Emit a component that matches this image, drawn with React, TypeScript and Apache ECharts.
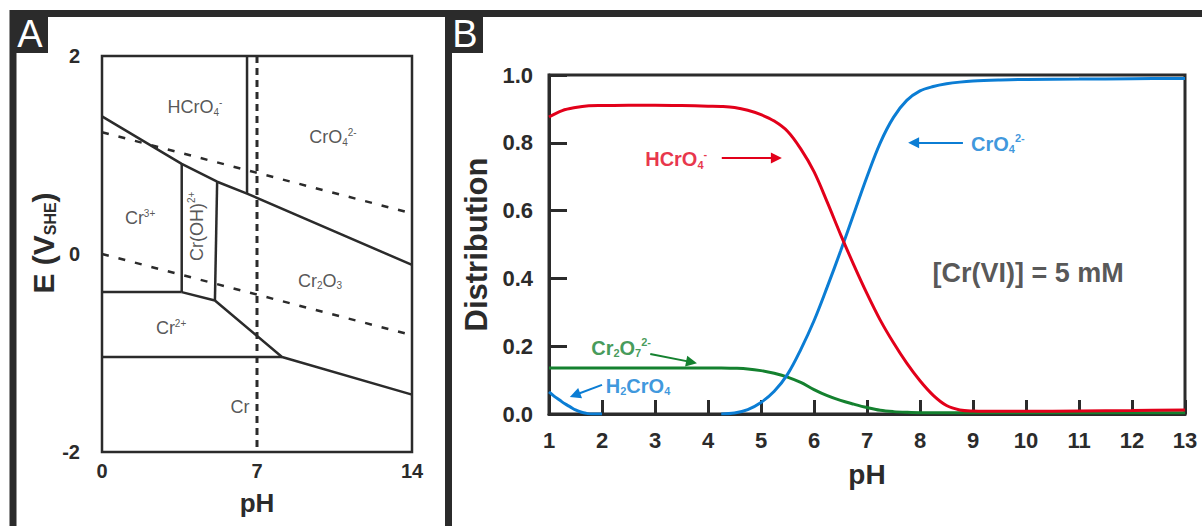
import React, { useEffect, useRef } from 'react';
import * as echarts from 'echarts';

const FONT = 'Arial, "Liberation Sans", Helvetica, sans-serif';
const INK = '#2b2b2b';
const RED = '#e2001a';
const BLUE = '#0b7dd4';
const GREEN = '#14812f';

// ---------- Panel A: Pourbaix diagram (pH, E in V vs SHE) ----------
const upperBoundary = [[0, 1.39], [3.6, 0.91], [5.2, 0.73], [6.55, 0.61], [14, -0.11]];
const hcro4Cro4Boundary = [[6.55, 2], [6.55, 0.61]];
const cr3CrOHBoundary = [[3.6, 0.91], [3.6, -0.385]];
const crOHCr2o3Boundary = [[5.2, 0.73], [5.1, -0.47]];
const cr3Cr2Boundary = [[0, -0.385], [3.6, -0.385]];
const cr2Cr2o3Boundary = [[3.6, -0.385], [5.1, -0.47], [8.13, -1.04], [14, -1.42]];
const cr2CrBoundary = [[0, -1.04], [8.13, -1.04]];
const waterO2Line = [[0, 1.23], [14, 0.41]];
const waterH2Line = [[0, 0], [14, -0.82]];
const neutralLine = [[7, 2], [7, -2]];

const regionText = [
  'HCrO{sub|4}{sup|-}',
  'CrO{sub|4}{sup|2-}',
  'Cr{sup|3+}',
  'Cr(OH){sup|2+}',
  'Cr{sub|2}O{sub|3}',
  'Cr{sup|2+}',
  'Cr',
];
const regionPH = [4.2, 10.43, 1.72, 4.29, 9.85, 3.12, 6.23];
const regionE = [1.48, 1.18, 0.36, 0.28, -0.27, -0.75, -1.55];
const regionRotate = [0, 0, 0, 90, 0, 0, 0];

// ---------- Panel B: Cr(VI) speciation ----------
const phB = [1, 1.25, 1.5, 1.75, 2, 2.5, 3, 3.5, 4, 4.25, 4.5, 4.75, 5, 5.25, 5.5, 5.75, 6, 6.25, 6.5, 6.75, 7, 7.25, 7.5, 7.75, 8, 8.25, 8.5, 8.75, 9, 9.5, 10, 11, 12, 13];
const hcro4 = [0.876, 0.895, 0.904, 0.909, 0.91, 0.911, 0.911, 0.91, 0.908, 0.907, 0.904, 0.896, 0.883, 0.864, 0.834, 0.782, 0.715, 0.625, 0.53, 0.44, 0.355, 0.277, 0.21, 0.15, 0.098, 0.055, 0.025, 0.012, 0.009, 0.008, 0.008, 0.009, 0.01, 0.012];
const cro4 = [null, null, null, null, null, null, null, null, null, 0, 0.003, 0.013, 0.034, 0.067, 0.117, 0.19, 0.275, 0.375, 0.48, 0.59, 0.7, 0.8, 0.875, 0.925, 0.953, 0.966, 0.974, 0.979, 0.982, 0.985, 0.987, 0.988, 0.989, 0.99];
const cr2o7 = [0.136, 0.136, 0.136, 0.136, 0.136, 0.136, 0.136, 0.136, 0.136, 0.136, 0.135, 0.133, 0.128, 0.12, 0.109, 0.093, 0.072, 0.054, 0.04, 0.029, 0.019, 0.011, 0.007, 0.005, 0.004, 0.004, 0.004, 0.004, 0.004, 0.004, 0.004, 0.004, 0.004, 0.004];
const phH2cro4 = [1, 1.1, 1.2, 1.3, 1.4, 1.5, 1.6, 1.7, 1.8, 2];
const h2cro4 = [0.065, 0.052, 0.041, 0.03, 0.021, 0.012, 0.006, 0.002, 0, 0];

const annoText = ['HCrO{sub|4}{sup|-}', 'CrO{sub|4}{sup|2-}', 'Cr{sub|2}O{sub|7}{sup|2-}', 'H{sub|2}CrO{sub|4}'];
const annoColor = [RED, BLUE, GREEN, BLUE];
const annoAt = [[3.4, 0.752], [9.47, 0.797], [2.36, 0.195], [2.68, 0.083]];
const arrowFrom = [[4.26, 0.755], [8.81, 0.8], [2.91, 0.177], [2.0, 0.086]];
const arrowTo = [[5.29, 0.755], [7.88, 0.8], [3.69, 0.153], [1.49, 0.056]];
const concentrationNote = '[Cr(VI)] = 5 mM';
const notePos = [10.04, 0.416];

const pairs = (xs: number[], ys: (number | null)[]) =>
  xs.map((x, i) => [x, ys[i]]).filter((d) => d[1] !== null);

const richFor = (sub: number, color: string, weight: string) => ({
  sub: { fontSize: sub, lineHeight: sub, verticalAlign: 'bottom', fontFamily: FONT, color, fontWeight: weight },
  sup: { fontSize: sub, lineHeight: sub, verticalAlign: 'top', fontFamily: FONT, color, fontWeight: weight },
});

function buildOption() {
  const lineA = (data: number[][], kind: 'solid' | 'dash' | 'dot') => ({
    type: 'line',
    xAxisIndex: 0,
    yAxisIndex: 0,
    data,
    symbol: 'none',
    silent: true,
    z: 3,
    lineStyle: {
      color: INK,
      width: kind === 'dot' ? 3 : 2.5,
      type: kind === 'solid' ? 'solid' : kind === 'dash' ? [7, 10] : [7, 5],
    },
  });

  const series: any[] = [
    lineA(waterO2Line, 'dash'),
    lineA(waterH2Line, 'dash'),
    lineA(neutralLine, 'dot'),
    lineA(upperBoundary, 'solid'),
    lineA(hcro4Cro4Boundary, 'solid'),
    lineA(cr3CrOHBoundary, 'solid'),
    lineA(crOHCr2o3Boundary, 'solid'),
    lineA(cr3Cr2Boundary, 'solid'),
    lineA(cr2Cr2o3Boundary, 'solid'),
    lineA(cr2CrBoundary, 'solid'),
    {
      type: 'scatter',
      xAxisIndex: 0,
      yAxisIndex: 0,
      symbolSize: 0,
      silent: true,
      z: 5,
      label: {
        show: true,
        position: 'inside',
        fontSize: 18,
        lineHeight: 20,
        color: INK,
        fontFamily: FONT,
        rich: richFor(10, INK, 'normal'),
      },
      data: regionText.map((t, i) => ({
        value: [regionPH[i], regionE[i]],
        label: { formatter: t, rotate: regionRotate[i] },
      })),
    },
    {
      type: 'line', name: 'Cr2O7 2-', xAxisIndex: 1, yAxisIndex: 1,
      data: pairs(phB, cr2o7), smooth: 0.35, symbol: 'none', silent: true, z: 3,
      lineStyle: { color: GREEN, width: 3 }, itemStyle: { color: GREEN },
    },
    {
      type: 'line', name: 'H2CrO4', xAxisIndex: 1, yAxisIndex: 1,
      data: pairs(phH2cro4, h2cro4), smooth: 0.35, symbol: 'none', silent: true, z: 3,
      lineStyle: { color: BLUE, width: 3 }, itemStyle: { color: BLUE },
    },
    {
      type: 'line', name: 'CrO4 2-', xAxisIndex: 1, yAxisIndex: 1,
      data: pairs(phB, cro4), smooth: 0.35, symbol: 'none', silent: true, z: 3,
      lineStyle: { color: BLUE, width: 3 }, itemStyle: { color: BLUE },
    },
    {
      type: 'line', name: 'HCrO4 -', xAxisIndex: 1, yAxisIndex: 1,
      data: pairs(phB, hcro4), smooth: 0.35, symbol: 'none', silent: true, z: 4,
      lineStyle: { color: RED, width: 3 }, itemStyle: { color: RED },
    },
  ];

  annoText.forEach((t, i) => {
    series.push({
      type: 'scatter',
      xAxisIndex: 1,
      yAxisIndex: 1,
      symbolSize: 0,
      silent: true,
      z: 6,
      color: annoColor[i],
      label: {
        show: true,
        position: 'inside',
        formatter: t,
        fontSize: 20,
        fontWeight: 'bold',
        lineHeight: 22,
        color: annoColor[i],
        fontFamily: FONT,
        rich: richFor(11, annoColor[i], 'bold'),
      },
      data: [annoAt[i]],
      markLine: {
        silent: true,
        symbol: ['none', 'triangle'],
        symbolSize: 11,
        label: { show: false },
        lineStyle: { color: annoColor[i], width: 2, type: 'solid' },
        itemStyle: { color: annoColor[i] },
        data: [[{ coord: arrowFrom[i] }, { coord: arrowTo[i] }]],
      },
    });
  });

  series.push({
    type: 'scatter',
    xAxisIndex: 1,
    yAxisIndex: 1,
    symbolSize: 0,
    silent: true,
    z: 6,
    label: {
      show: true,
      position: 'inside',
      formatter: concentrationNote,
      fontSize: 27,
      fontWeight: 'bold',
      color: INK,
      fontFamily: FONT,
    },
    data: [notePos],
  });

  const boldTick = (size: number) => ({ fontSize: size, fontWeight: 'bold', color: INK, fontFamily: FONT });

  return {
    animation: false,
    backgroundColor: '#ffffff',
    textStyle: { fontFamily: FONT },
    grid: [
      { left: 102, top: 56, width: 310, height: 396, show: true, borderColor: INK, borderWidth: 2.5, backgroundColor: 'transparent', outerBoundsMode: 'none' },
      { left: 549, top: 75, width: 636, height: 339, show: true, borderColor: INK, borderWidth: 3, backgroundColor: 'transparent', outerBoundsMode: 'none' },
    ],
    xAxis: [
      {
        gridIndex: 0, type: 'value', min: 0, max: 14, interval: 7,
        axisLine: { show: false, onZero: false }, axisTick: { show: false }, splitLine: { show: false },
        axisLabel: { ...boldTick(20), margin: 9 },
        name: 'pH', nameLocation: 'middle', nameGap: 38,
        nameTextStyle: { fontSize: 26, fontWeight: 'bold', color: INK, fontFamily: FONT },
      },
      {
        gridIndex: 1, type: 'value', min: 1, max: 13, interval: 1,
        axisLine: { show: true, onZero: false, lineStyle: { color: INK, width: 3 } },
        axisTick: { show: true, inside: true, length: 14, lineStyle: { color: INK, width: 3 } },
        splitLine: { show: false },
        axisLabel: { ...boldTick(22), margin: 15 },
        name: 'pH', nameLocation: 'middle', nameGap: 46,
        nameTextStyle: { fontSize: 28, fontWeight: 'bold', color: INK, fontFamily: FONT },
      },
    ],
    yAxis: [
      {
        gridIndex: 0, type: 'value', min: -2, max: 2, interval: 2,
        axisLine: { show: false, onZero: false }, axisTick: { show: false }, splitLine: { show: false },
        axisLabel: { ...boldTick(20), margin: 22 },
        name: 'E (V{sub|SHE})', nameLocation: 'middle', nameGap: 22, nameRotate: 90,
        nameTextStyle: {
          fontSize: 30, fontWeight: 'bold', color: INK, fontFamily: FONT, padding: [0, 0, 0, 22],
          rich: { sub: { fontSize: 16, lineHeight: 14, verticalAlign: 'bottom', fontWeight: 'bold', color: INK, fontFamily: FONT } },
        },
      },
      {
        gridIndex: 1, type: 'value', min: 0, max: 1, interval: 0.2,
        axisLine: { show: true, lineStyle: { color: INK, width: 3 } },
        axisTick: { show: true, inside: true, length: 18, lineStyle: { color: INK, width: 3 } },
        splitLine: { show: false },
        axisLabel: { ...boldTick(22), margin: 16, formatter: (v: number) => v.toFixed(1) },
        name: 'Distribution', nameLocation: 'middle', nameGap: 51, nameRotate: 90,
        nameTextStyle: { fontSize: 31, fontWeight: 'bold', color: INK, fontFamily: FONT },
      },
    ],
    graphic: [
      { type: 'line', silent: true, shape: { x1: 10, y1: 13.5, x2: 1202, y2: 13.5 }, style: { stroke: INK, lineWidth: 7 } },
      { type: 'line', silent: true, shape: { x1: 13, y1: 10, x2: 13, y2: 526 }, style: { stroke: INK, lineWidth: 7 } },
      { type: 'line', silent: true, shape: { x1: 448.5, y1: 10, x2: 448.5, y2: 526 }, style: { stroke: INK, lineWidth: 7 } },
      { type: 'rect', silent: true, shape: { x: 10, y: 10, width: 38, height: 43 }, style: { fill: INK } },
      { type: 'rect', silent: true, shape: { x: 445, y: 10, width: 38, height: 43 }, style: { fill: INK } },
      { type: 'text', silent: true, x: 30, y: 34, style: { text: 'A', fill: '#ffffff', fontSize: 38, fontFamily: FONT, align: 'center', verticalAlign: 'middle' } },
      { type: 'text', silent: true, x: 465, y: 34, style: { text: 'B', fill: '#ffffff', fontSize: 38, fontFamily: FONT, align: 'center', verticalAlign: 'middle' } },
    ],
    series,
  };
}

export default function App() {
  const ref = useRef<HTMLDivElement>(null);
  useEffect(() => {
    if (!ref.current) return;
    const chart = echarts.init(ref.current, null, { renderer: 'svg' });
    chart.setOption(buildOption() as any);
    return () => chart.dispose();
  }, []);
  return (
    <div
      ref={ref}
      style={{ position: 'fixed', left: 0, top: 0, width: 1202, height: 526, background: '#ffffff' }}
    />
  );
}
